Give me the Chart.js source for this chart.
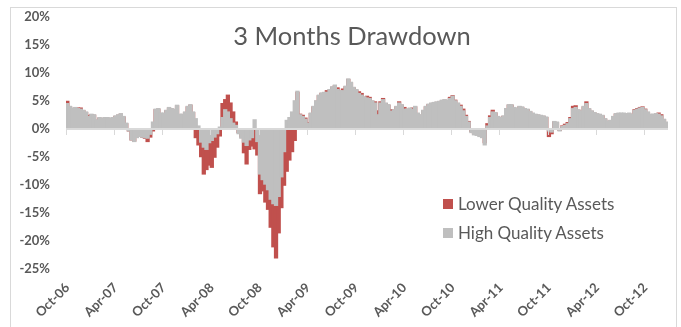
<!DOCTYPE html>
<html>
<head>
<meta charset="utf-8">
<script src="https://cdn.jsdelivr.net/npm/chart.js@4.4.1/dist/chart.umd.min.js"></script>
<style>
  html, body { margin: 0; padding: 0; background: #fff; }
  #wrap { position: relative; width: 681px; height: 327px; overflow: hidden; font-family: Lato, "Open Sans", sans-serif; }
  #frame { position: absolute; left: 10px; top: 7px; width: 667px; height: 340px; border: 1px solid #D9D9D9; box-sizing: border-box; pointer-events: none; }
  #chart { position: absolute; left: 0; top: 0; }
  #title { position: absolute; left: 352px; top: 20px; transform: translateX(-50%); white-space: nowrap; font-size: 25.5px; color: #595959; line-height: 30px; }
  #legend { position: absolute; left: 443px; top: 189px; font-size: 17px; color: #595959; }
  #legend .item { display: flex; align-items: center; height: 29px; line-height: 18px; }
  #legend .box { width: 10px; height: 10px; margin-right: 5px; }
</style>
</head>
<body>
<div id="wrap">
  <canvas id="chart" width="681" height="327"></canvas>
  <div id="frame"></div>
  <div id="title">3 Months Drawdown</div>
  <div id="legend"></div>
</div>
<script>
// Rolling 3-month drawdown, roughly three observations per month, Oct-06 .. Dec-12 (%)
const highQuality = [
  4.5,4.0,3.7,3.8,3.6,3.5,3.3,3.0,2.2,2.6,2.5,1.6,2.0,1.9,2.0,
  2.0,1.9,2.0,2.3,2.5,2.7,2.2,1.0,-0.3,-1.9,-2.2,-1.5,-1.3,-1.4,-1.5,
  -1.6,-0.9,1.2,3.5,3.6,2.8,2.8,3.3,3.8,3.6,3.5,4.2,2.6,2.6,3.0,
  4.0,4.3,3.0,1.8,0.5,-2.3,-3.2,-3.6,-2.4,-2.0,-1.4,-0.8,0.3,2.0,3.4,
  3.0,1.8,1.0,0.6,-0.8,-1.6,-2.3,-2.9,-1.9,-1.5,1.6,-2.2,-8.0,-9.0,-9.8,
  -10.8,-12.5,-13.3,-13.6,-12.0,-8.5,-4.0,1.5,2.0,3.0,5.0,6.7,2.5,2.2,1.7,
  1.0,2.8,4.0,5.0,6.0,6.4,6.5,6.5,7.0,7.5,7.8,7.0,6.8,6.8,7.6,
  8.9,8.3,7.4,7.0,6.3,6.0,5.7,5.5,5.4,5.0,4.6,2.5,4.6,5.2,4.6,
  4.3,3.1,3.4,4.0,4.6,4.3,3.5,3.5,3.7,3.5,4.0,2.8,2.5,3.3,4.0,
  4.4,4.6,4.7,4.8,4.9,5.1,5.2,5.1,5.4,5.8,5.0,4.6,4.0,3.2,2.2,
  1.2,-0.6,-1.0,-1.1,-1.3,-1.5,-2.8,0.5,2.0,3.0,2.9,2.2,2.0,2.3,3.6,
  4.3,4.3,3.8,3.7,4.0,3.9,3.6,3.5,3.1,2.8,2.6,2.5,2.4,2.3,2.1,
  -0.3,-0.5,1.3,1.2,-0.3,0.4,0.6,0.9,1.8,3.6,3.8,3.4,3.2,4.0,4.5,
  3.6,3.2,2.9,2.7,2.6,2.4,1.8,1.4,1.5,2.2,2.7,2.8,2.8,2.8,2.7,
  2.8,2.6,3.3,3.5,3.7,3.8,3.4,3.0,2.6,2.6,2.7,2.6,2.3,1.7,1.2
];
const lowerQuality = [
  4.9,3.9,3.6,3.7,3.7,3.7,3.2,2.9,2.4,2.5,2.4,1.5,1.9,1.8,1.9,
  1.9,1.8,1.9,2.2,2.4,2.6,2.1,0.9,-0.3,-1.9,-2.1,-1.4,-1.2,-1.4,-1.6,
  -2.2,-1.4,-0.3,3.4,3.5,2.7,2.7,3.2,3.7,3.5,3.4,4.1,2.5,2.5,2.9,
  3.9,4.2,2.9,-1.5,-2.8,-4.9,-8.0,-7.2,-6.4,-6.8,-5.0,-3.2,-1.2,4.5,5.2,
  6.0,4.6,3.0,1.2,-0.6,-1.4,-4.2,-6.2,-3.6,-3.0,-3.5,-4.6,-11.5,-11.0,-13.0,
  -14.3,-17.5,-21.0,-23.0,-18.5,-14.0,-10.0,-7.5,-5.5,-4.0,-2.0,6.5,2.6,2.4,1.9,
  1.1,2.7,3.9,4.9,5.9,6.3,6.4,6.8,6.9,7.4,7.7,7.3,6.7,7.1,7.5,
  8.8,8.2,7.3,6.9,6.6,6.3,5.6,5.8,5.6,4.9,4.8,3.2,4.8,5.4,4.5,
  4.2,3.4,3.3,3.9,4.8,4.2,3.8,3.4,3.6,3.7,3.9,2.7,2.4,3.2,3.9,
  4.3,4.5,4.6,4.7,4.8,5.0,5.1,5.0,5.6,5.9,5.1,4.5,4.2,3.5,2.4,
  1.3,-0.4,-0.8,-0.9,-1.0,-1.2,-2.4,0.9,2.3,3.3,2.8,2.1,1.9,2.2,3.5,
  4.2,4.2,3.7,3.6,3.9,3.8,3.5,3.4,3.0,2.7,2.5,2.4,2.3,2.2,2.0,
  -1.3,-0.8,1.2,1.1,-0.2,0.5,0.8,1.1,2.0,4.0,4.1,3.3,3.1,3.9,4.8,
  3.5,3.1,2.8,2.6,2.5,2.3,1.7,1.3,1.4,2.1,2.6,2.7,2.7,2.7,2.6,
  2.7,2.5,3.4,3.6,3.8,3.9,3.5,2.9,2.5,2.5,2.6,2.8,2.5,1.6,1.1
];
// Axis labels, one every six months
const tickLabels = ['Oct-06','Apr-07','Oct-07','Apr-08','Oct-08','Apr-09','Oct-09',
                    'Apr-10','Oct-10','Apr-11','Oct-11','Apr-12','Oct-12'];
const monthNames = ['Jan','Feb','Mar','Apr','May','Jun','Jul','Aug','Sep','Oct','Nov','Dec'];
const startYear = 2006, startMonth = 9, perMonth = 3, tickEvery = 6 * perMonth;

// One category per observation, named by its month
const categories = highQuality.map((_, i) => {
  const m = startMonth + Math.floor(i / perMonth);
  return monthNames[m % 12] + '-' + String(startYear + Math.floor(m / 12)).slice(2);
});

const series = [
  { label: 'Lower Quality Assets', data: lowerQuality, color: '#C0504D', order: 2 },
  { label: 'High Quality Assets',  data: highQuality,  color: '#BFBFBF', order: 1 }
];

// Zero line with small tick marks every six months
const zeroAxis = {
  id: 'zeroAxis',
  afterDatasetsDraw(chart) {
    const { ctx, chartArea, scales: { x, y } } = chart;
    const y0 = Math.round(y.getPixelForValue(0));
    const half = (x.getPixelForValue(1) - x.getPixelForValue(0)) / 2;
    ctx.save();
    ctx.strokeStyle = '#D9D9D9';
    ctx.lineWidth = 2;
    ctx.beginPath();
    ctx.moveTo(chartArea.left, y0);
    ctx.lineTo(chartArea.right, y0);
    ctx.stroke();
    ctx.lineWidth = 1;
    ctx.beginPath();
    for (let i = 0; i < categories.length; i += tickEvery) {
      const px = Math.round(x.getPixelForValue(i) - half) + 0.5;
      ctx.moveTo(px, y0);
      ctx.lineTo(px, y0 + 6);
    }
    ctx.stroke();
    ctx.restore();
  }
};

const tickFont = { family: 'Lato, "Open Sans", sans-serif', size: 13, weight: 'bold' };

new Chart(document.getElementById('chart'), {
  type: 'bar',
  data: {
    labels: categories,
    datasets: series.map(s => ({
      label: s.label,
      data: s.data,
      backgroundColor: s.color,
      borderWidth: 0,
      inflateAmount: 0.8,
      order: s.order,
      grouped: false,
      barPercentage: 1,
      categoryPercentage: 1
    }))
  },
  options: {
    responsive: false,
    animation: false,
    layout: { padding: { left: 0, right: 13, top: 17, bottom: 0 } },
    plugins: { legend: { display: false }, title: { display: false }, tooltip: { enabled: false } },
    scales: {
      x: {
        grid: { display: false, drawTicks: false },
        border: { display: false },
        ticks: {
          autoSkip: false,
          minRotation: 45,
          maxRotation: 45,
          padding: 11,
          color: '#595959',
          font: tickFont,
          callback: (v, i) => (i % tickEvery === 0 ? tickLabels[i / tickEvery] : null)
        },
        afterFit: s => { s.height = 58; }
      },
      y: {
        min: -25,
        max: 20,
        grid: { display: false, drawTicks: true, tickLength: 12 },
        border: { display: false },
        ticks: {
          stepSize: 5,
          padding: 4,
          color: '#595959',
          font: tickFont,
          callback: v => v + '%'
        },
        afterFit: s => { s.width = 66; }
      }
    }
  },
  plugins: [zeroAxis]
});

// Legend entries from the series list
const legend = document.getElementById('legend');
series.forEach(s => {
  const item = document.createElement('div');
  item.className = 'item';
  const box = document.createElement('span');
  box.className = 'box';
  box.style.background = s.color;
  const text = document.createElement('span');
  text.textContent = s.label;
  item.appendChild(box);
  item.appendChild(text);
  legend.appendChild(item);
});
</script>
</body>
</html>
